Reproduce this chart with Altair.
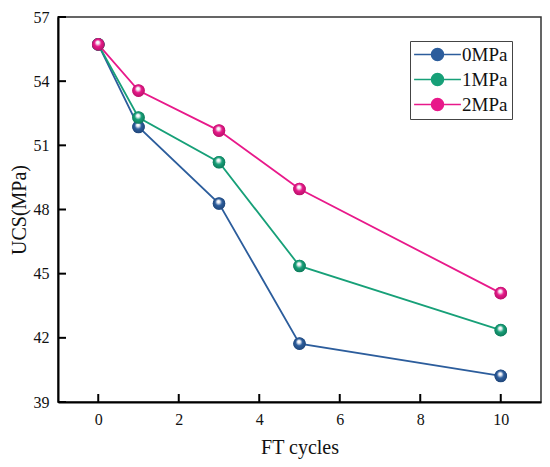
import altair as alt
import pandas as pd

cycles = [0, 1, 3, 5, 10]
series_names = ["0MPa", "1MPa", "2MPa"]
ucs_0 = [55.72, 51.86, 48.28, 41.73, 40.22]
ucs_1 = [55.72, 52.30, 50.21, 45.36, 42.36]
ucs_2 = [55.72, 53.56, 51.69, 48.96, 44.09]
colors = ["#2c5d9c", "#17a078", "#e8198a"]
dark = ["#1d3f6e", "#0d6e51", "#a8105f"]
x_ticks = [0, 2, 4, 6, 8, 10]
y_ticks = [39, 42, 45, 48, 51, 54, 57]
x_domain = [-1, 11]
y_domain = [39, 57]

rows = []
for name, vals in zip(series_names, [ucs_0, ucs_1, ucs_2]):
    for c, v in zip(cycles, vals):
        rows.append({"cycles": c, "ucs": v, "series": name})
df = pd.DataFrame(rows)

FONT = "Liberation Serif"

xs = alt.Scale(domain=x_domain, nice=False, zero=False)
ys = alt.Scale(domain=y_domain, nice=False, zero=False)
cs = alt.Scale(domain=series_names, range=colors)

legend_sym = "M-3.9,0H3.9M-1,0A1,1 0 1,1 1,0A1,1 0 1,1 -1,0Z"
leg = alt.Legend(title=None, orient="none",
                 legendX=352, legendY=24,
                 symbolType=legend_sym, symbolSize=144,
                 symbolStrokeWidth=1.5, symbolOffset=14,
                 labelOffset=15, rowPadding=5,
                 padding=4, labelFont=FONT,
                 labelFontSize=19, labelColor="#111",
                 strokeColor="#444")

lines = alt.Chart(df).mark_line(strokeWidth=1.8).encode(
    x=alt.X("cycles:Q", scale=xs,
            axis=alt.Axis(values=x_ticks, title="FT cycles", ticks=False,
                          grid=False, labelPadding=9, titlePadding=10)),
    y=alt.Y("ucs:Q", scale=ys,
            axis=alt.Axis(values=y_ticks, title="UCS(MPa)", ticks=False,
                          grid=False, labelPadding=9, titlePadding=4)),
    color=alt.Color("series:N", scale=cs, legend=leg),
)

flat_points = alt.Chart(df).mark_point(filled=True, size=150, opacity=1,
                                       shape="circle").encode(
    x="cycles:Q", y="ucs:Q",
    color=alt.Color("series:N", scale=cs, legend=leg),
)

point_layers = []
for name, col, dk in zip(series_names, colors, dark):
    grad = {
        "gradient": "radial",
        "x1": 0.45, "y1": 0.32, "r1": 0.0,
        "x2": 0.5, "y2": 0.5, "r2": 0.6,
        "stops": [
            {"offset": 0, "color": "#ffffff"},
            {"offset": 0.18, "color": "#f4f4f8"},
            {"offset": 0.45, "color": col},
            {"offset": 1, "color": dk},
        ],
    }
    p = alt.Chart(df[df["series"] == name]).mark_point(
        filled=True, size=160, shape="circle", fill=grad, opacity=1,
        strokeWidth=0
    ).encode(x="cycles:Q", y="ucs:Q")
    point_layers.append(p)

xtick_df = pd.DataFrame({"t": x_ticks, "base": [y_domain[0]] * len(x_ticks)})
ytick_df = pd.DataFrame({"t": y_ticks, "base": [x_domain[0]] * len(y_ticks)})

xticks = alt.Chart(xtick_df).mark_point(
    shape="M0,0V-2", size=64, filled=False, color="#000", strokeWidth=2,
    opacity=1
).encode(x=alt.X("t:Q", scale=xs), y=alt.Y("base:Q", scale=ys))

yticks = alt.Chart(ytick_df).mark_point(
    shape="M0,0H2", size=64, filled=False, color="#000", strokeWidth=2,
    opacity=1
).encode(y=alt.Y("t:Q", scale=ys), x=alt.X("base:Q", scale=xs))

chart = alt.layer(lines, flat_points, *point_layers, xticks, yticks).properties(
    width=483, height=385,
    autosize=alt.AutoSizeParams(type="none"),
    padding={"left": 50, "top": 9, "right": 1, "bottom": 57},
    background="white",
).configure_view(
    stroke="#333", strokeWidth=1.5
).configure_axis(
    domainColor="#000", domainWidth=2,
    labelFont=FONT, labelFontSize=16, labelColor="#111",
    titleFont=FONT, titleFontSize=20, titleFontWeight="normal",
    titleColor="#111", labelAngle=0,
)

chart.save("out.html", embed_options={"renderer": "svg", "actions": False})
